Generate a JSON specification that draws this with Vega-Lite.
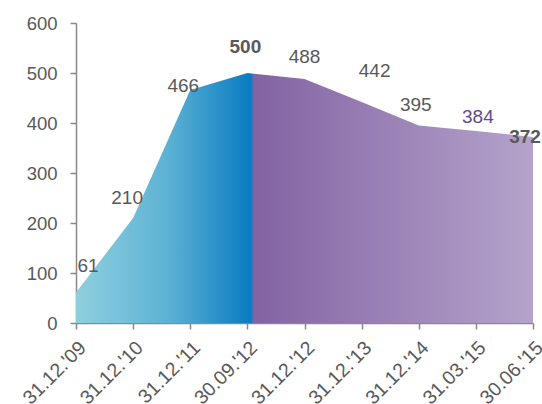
{
  "$schema": "https://vega.github.io/schema/vega-lite/v6.json",
  "width": 457,
  "height": 300,
  "autosize": "none",
  "padding": {"left": 76, "top": 23, "right": 9, "bottom": 81},
  "background": "white",
  "config": {"view": {"stroke": null}, "font": "Liberation Sans"},
  "data": {"values": [
    {"date": "31.12.'09", "value": 61},
    {"date": "31.12.'10", "value": 210},
    {"date": "31.12.'11", "value": 466},
    {"date": "30.09.'12", "value": 500},
    {"date": "31.12.'12", "value": 488},
    {"date": "31.12.'13", "value": 442},
    {"date": "31.12.'14", "value": 395},
    {"date": "31.03.'15", "value": 384},
    {"date": "30.06.'15", "value": 372}
  ]},
  "encoding": {
    "x": {"field": "date", "type": "ordinal", "sort": null,
      "scale": {"type": "point", "padding": 0},
      "axis": {"title": null, "labelAngle": -45, "labelFontSize": 19.5, "labelColor": "#595959",
        "domainColor": "#898989", "tickColor": "#898989", "domainWidth": 1.5, "tickWidth": 1.5, "tickSize": 6, "labelPadding": 9}},
    "y": {"field": "value", "type": "quantitative",
      "scale": {"domain": [0, 600]},
      "axis": {"title": null, "values": [0, 100, 200, 300, 400, 500, 600], "grid": false, "labelFontSize": 18.5, "labelColor": "#595959",
        "domainColor": "#898989", "tickColor": "#898989", "domainWidth": 1.5, "tickWidth": 1.5, "tickSize": 6, "labelPadding": 13}}
  },
  "layer": [
    {"mark": {"type": "area", "color": {"gradient": "linear", "x1": 0, "x2": 1, "y1": 0, "y2": 0,
      "stops": [
        {"offset": 0, "color": "#8fcfdf"},
        {"offset": 0.2, "color": "#5db2d4"},
        {"offset": 0.383, "color": "#0a7bc2"},
        {"offset": 0.389, "color": "#8363a3"},
        {"offset": 1, "color": "#b4a3cb"}
      ]}}},
    {"transform": [{"filter": "datum.date == \"31.12.'09\""}], "mark": {"type": "text", "fontSize": 19, "color": "#595959", "dx": 12, "dy": -27}, "encoding": {"text": {"field": "value"}}},
    {"transform": [{"filter": "datum.date == \"31.12.'10\""}], "mark": {"type": "text", "fontSize": 19, "color": "#595959", "dx": -6, "dy": -20}, "encoding": {"text": {"field": "value"}}},
    {"transform": [{"filter": "datum.date == \"31.12.'11\""}], "mark": {"type": "text", "fontSize": 19, "color": "#595959", "dx": -7, "dy": -4}, "encoding": {"text": {"field": "value"}}},
    {"transform": [{"filter": "datum.date == \"30.09.'12\""}], "mark": {"type": "text", "fontSize": 19, "fontWeight": "bold", "color": "#595959", "dx": -2, "dy": -26}, "encoding": {"text": {"field": "value"}}},
    {"transform": [{"filter": "datum.date == \"31.12.'12\""}], "mark": {"type": "text", "fontSize": 19, "color": "#595959", "dx": 0, "dy": -22}, "encoding": {"text": {"field": "value"}}},
    {"transform": [{"filter": "datum.date == \"31.12.'13\""}], "mark": {"type": "text", "fontSize": 19, "color": "#595959", "dx": 13, "dy": -31}, "encoding": {"text": {"field": "value"}}},
    {"transform": [{"filter": "datum.date == \"31.12.'14\""}], "mark": {"type": "text", "fontSize": 19, "color": "#595959", "dx": -3, "dy": -21}, "encoding": {"text": {"field": "value"}}},
    {"transform": [{"filter": "datum.date == \"31.03.'15\""}], "mark": {"type": "text", "fontSize": 19, "color": "#5f4b8b", "dx": 2, "dy": -14}, "encoding": {"text": {"field": "value"}}},
    {"transform": [{"filter": "datum.date == \"30.06.'15\""}], "mark": {"type": "text", "fontSize": 19, "fontWeight": "bold", "color": "#595959", "dx": -8, "dy": 0}, "encoding": {"text": {"field": "value"}}}
  ]
}
